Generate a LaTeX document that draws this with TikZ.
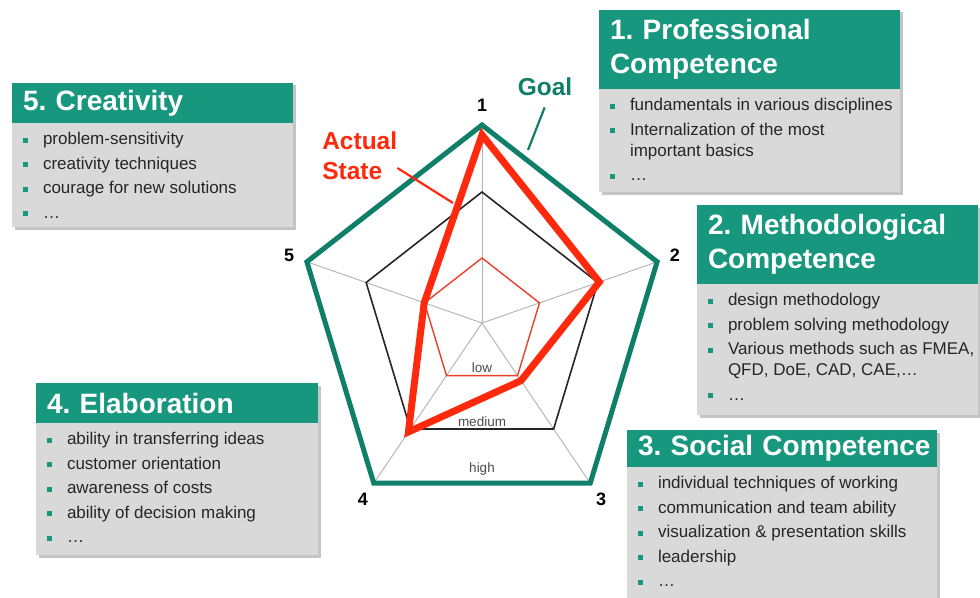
\documentclass[tikz,border=0pt]{standalone}
\usepackage{fontspec}
\setmainfont{Liberation Sans}
\usetikzlibrary{positioning,shadows}
\frenchspacing

\newlength\px
\setlength\px{0.7113pt}

\definecolor{verde}{HTML}{17977E}
\definecolor{verdeosc}{HTML}{0F7F69}
\definecolor{rojo}{HTML}{FF2A0D}
\definecolor{rojobajo}{HTML}{E8402A}
\definecolor{gris}{HTML}{D9D9D9}

% viñeta cuadrada verde
\newcommand\punto[1]{\par\noindent\hangindent=20\px\hangafter=1%
  \makebox[20\px][l]{\textcolor{verde}{\rule[2\px]{5\px}{5\px}}}#1\par}
% cuerpo gris de cada caja: alto, ancho, puntos
\newcommand\lista[3]{\parbox[t][#1\px][t]{#2\px}{%
  \fontsize{17\px}{21\px}\selectfont\color{black!85}%
  \raggedright\leftskip=11\px\parskip=3.5\px
  \vspace*{6\px}#3}}

\tikzset{
  titulo/.style={fill=verde, text=white, anchor=north west, inner xsep=11\px,
    inner ysep=0pt, outer sep=0pt, align=left,
    font=\bfseries\fontsize{28\px}{34\px}\selectfont,
    drop shadow={shadow xshift=2.5\px, shadow yshift=-2.5\px, fill=black!45, opacity=0.5}},
  cuerpo/.style={fill=gris, inner sep=0pt, outer sep=0pt,
    drop shadow={shadow xshift=2.5\px, shadow yshift=-2.5\px, fill=black!45, opacity=0.5}},
  numero/.style={font=\bfseries\fontsize{18\px}{18\px}\selectfont},
  nivel/.style={font=\fontsize{13.5\px}{14\px}\selectfont, text=black!70, inner sep=0pt},
  rotulo/.style={font=\bfseries\fontsize{24.5\px}{30\px}\selectfont, inner sep=0pt, align=left},
  eje/.style={draw=black!30, line width=0.9\px},
  bajo/.style={draw=rojobajo, line width=1.4\px},
  medio/.style={draw=black!85, line width=1.6\px},
  objetivo/.style={draw=verdeosc, line width=5\px},
  actual/.style={draw=rojo, line width=7\px},
}

\begin{document}
\begin{tikzpicture}[x=\px, y=-\px]
  \fill[white] (0,0) rectangle (980,597);
  \useasboundingbox (0,0) rectangle (980,597);

  % 5. Creativity
  \node[titulo, text width=259\px, minimum height=40\px] (t5) at (12,83) {5. Creativity};
  \node[cuerpo, below=0pt of t5] (c5) {\lista{104}{281}{%
    \punto{problem-sensitivity}
    \punto{creativity techniques}
    \punto{courage for new solutions}
    \punto{…}}};

  % 1. Professional Competence
  \node[titulo, text width=279\px, minimum height=79\px] (t1) at (599,10) {1. Professional\\Competence};
  \node[cuerpo, below=0pt of t1] (c1) {\lista{103}{301}{%
    \punto{fundamentals in various disciplines}
    \punto{Internalization of the most\newline important basics}
    \punto{…}}};

  % 2. Methodological Competence
  \node[titulo, text width=259\px, minimum height=79\px] (t2) at (697,205) {2. Methodological\\Competence};
  \node[cuerpo, below=0pt of t2] (c2) {\lista{131}{281}{%
    \punto{design methodology}
    \punto{problem solving methodology}
    \punto{Various methods such as FMEA,\newline QFD, DoE, CAD, CAE,…}
    \punto{…}}};

  % 3. Social Competence
  \node[titulo, text width=288\px, minimum height=37\px] (t3) at (627,430) {\mbox{3. Social Competence}};
  \node[cuerpo, below=0pt of t3] (c3) {\lista{135}{310}{%
    \punto{individual techniques of working}
    \punto{communication and team ability}
    \punto{visualization \& presentation skills}
    \punto{leadership}
    \punto{…}}};

  % 4. Elaboration
  \node[titulo, text width=260\px, minimum height=40\px] (t4) at (36,383) {4. Elaboration};
  \node[cuerpo, below=0pt of t4] (c4) {\lista{132}{282}{%
    \punto{ability in transferring ideas}
    \punto{customer orientation}
    \punto{awareness of costs}
    \punto{ability of decision making}
    \punto{…}}};

  % diagrama de araña
  \begin{scope}[shift={(482,323)}, xscale=0.93, yscale=-1]
    \coordinate (c) at (0,0);
    % vértices de los tres niveles, con sus ejes
    \foreach \i in {1,...,5} {
      \coordinate (g\i) at ({90-72*(\i-1)}:198);
      \coordinate (m\i) at ({90-72*(\i-1)}:131);
      \coordinate (l\i) at ({90-72*(\i-1)}:65);
      \draw[eje] (c) -- (g\i);
    }
    % estado actual en cada eje
    \foreach \i/\v in {1/0.95,2/0.67,3/0.36,4/0.68,5/0.33}
      \coordinate (a\i) at ({90-72*(\i-1)}:{198*\v});

    \draw[bajo] (l1) -- (l2) -- (l3) -- (l4) -- (l5) -- cycle;
    \draw[medio] (m1) -- (m2) -- (m3) -- (m4) -- (m5) -- cycle;
    \draw[objetivo] (g1) -- (g2) -- (g3) -- (g4) -- (g5) -- cycle;
    \draw[actual] (a1) -- (a2) -- (a3) -- (a4) -- (a5) -- cycle;

    % números de los ejes
    \foreach \i in {1,...,5}
      \node[numero] (n\i) at ({90-72*(\i-1)}:218) {\i};

    \node[nivel] (low) at (0,-45) {low};
    \node[nivel] (medium) at (0,-99) {medium};
    \node[nivel] (high) at (0,-146) {high};
  \end{scope}

  % rótulos Goal y Actual State
  \node[rotulo, text=verdeosc] (goal) at (545,87) {Goal};
  \coordinate (pg) at (528,150);
  \draw[verdeosc, line width=2.2\px, shorten <=12\px] ([xshift=4\px]goal.south) -- (pg);

  \node[rotulo, text=rojo, anchor=west] (actual) at (322,156) {Actual\\State};
  \coordinate (pa) at (453,203);
  \draw[rojo, line width=2.2\px] ([yshift=-12\px]actual.east) -- (pa);
\end{tikzpicture}
\end{document}
